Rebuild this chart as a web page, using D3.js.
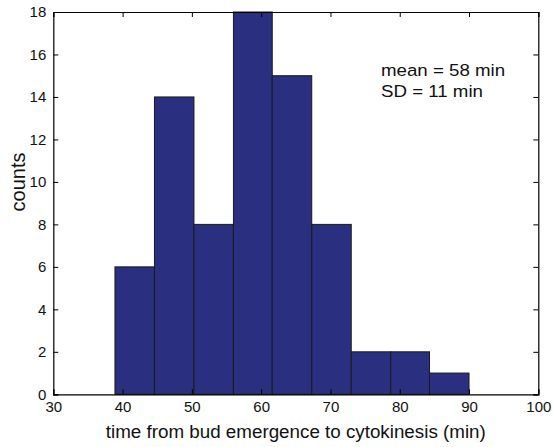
<!DOCTYPE html>
<html><head><meta charset="utf-8">
<script src="https://cdn.jsdelivr.net/npm/d3@7"></script>
<style>body{margin:0;background:#fff}svg{display:block}text{font-family:"Liberation Sans",Arial,sans-serif}</style>
</head><body>
<svg id="c" width="553" height="447"></svg>
<script>
const binEdges = [38.9, 44.6, 50.3, 56.0, 61.6, 67.3, 73.0, 78.7, 84.3, 90.0];
const counts = [6, 14, 8, 18, 15, 8, 2, 2, 1];
const xTicks = [30, 40, 50, 60, 70, 80, 90, 100];
const yTicks = [0, 2, 4, 6, 8, 10, 12, 14, 16, 18];
const annot = ["mean = 58 min", "SD = 11 min"];

const svg = d3.select("#c");
const L = 53.3, R = 538.3, T = 12, B = 394.3;
const x = d3.scaleLinear().domain([30, 100]).range([L, R]);
const y = d3.scaleLinear().domain([0, 18]).range([B, T]);

const bins = counts.map((c, i) => ({x0: binEdges[i], x1: binEdges[i+1], c}));
svg.append("g").selectAll("rect").data(bins).join("rect")
  .attr("x", d => x(d.x0)).attr("width", d => x(d.x1) - x(d.x0))
  .attr("y", d => y(d.c)).attr("height", d => y(0) - y(d.c))
  .attr("fill", "#2b2f80").attr("stroke", "#1a1a1a").attr("stroke-width", 1);

const tl = 5;
const gx = svg.append("g").attr("transform", `translate(0,${B})`)
  .call(d3.axisBottom(x).tickValues(xTicks).tickSize(-tl).tickPadding(7).tickFormat(d3.format("d")));
const gxt = svg.append("g").attr("transform", `translate(0,${T})`)
  .call(d3.axisTop(x).tickValues(xTicks).tickSize(-tl).tickFormat(""));
const gy = svg.append("g").attr("transform", `translate(${L},0)`)
  .call(d3.axisLeft(y).tickValues(yTicks).tickSize(-tl).tickPadding(7).tickFormat(d3.format("d")));
const gyr = svg.append("g").attr("transform", `translate(${R},0)`)
  .call(d3.axisRight(y).tickValues(yTicks).tickSize(-tl).tickFormat(""));
[gx, gxt, gy, gyr].forEach(g => {
  g.selectAll(".domain").attr("stroke", "#000").attr("stroke-width", 1.2);
  g.selectAll(".tick line").attr("stroke", "#000");
  g.selectAll("text").attr("font-size", 15).attr("fill", "#111")
    .attr("font-family", '"Liberation Sans",Arial,sans-serif');
});
gx.selectAll("text").attr("dy", "0.71em");

svg.append("text").attr("x", (L + R) / 2).attr("y", 437.5).attr("text-anchor", "middle")
  .attr("font-size", 18.8).attr("fill", "#111").text("time from bud emergence to cytokinesis (min)");
svg.append("text").attr("transform", `translate(25,182) rotate(-90)`)
  .attr("text-anchor", "middle").attr("font-size", 20).attr("fill", "#111").text("counts");

svg.append("g").selectAll("text").data(annot).join("text")
  .attr("transform", (d, i) => `translate(381,${75.7 + i * 21}) scale(1.1,1)`)
  .attr("font-size", 17).attr("fill", "#111").text(d => d);
</script>
</body></html>
